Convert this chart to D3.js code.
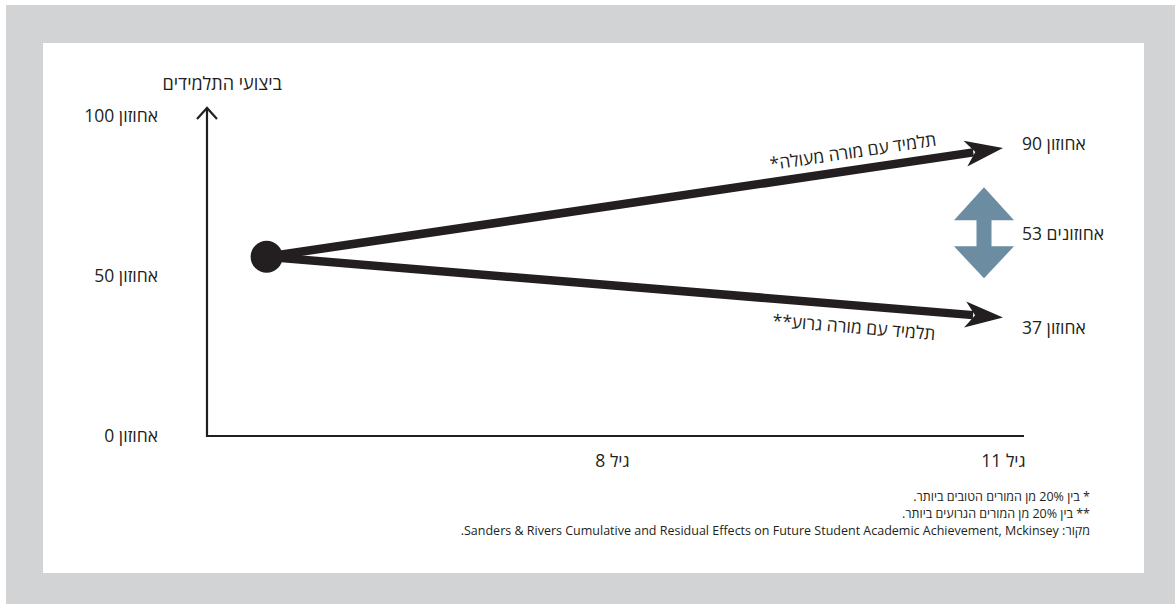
<!DOCTYPE html>
<html>
<head>
<meta charset="utf-8">
<script src="https://cdn.jsdelivr.net/npm/d3@7"></script>
<style>
  body { margin: 0; background: #ffffff; }
  svg { display: block; }
  text { font-family: "Open Sans", "Liberation Sans", sans-serif; fill: #231f20; }
</style>
</head>
<body>
<svg id="chart" width="1175" height="604"></svg>
<script>
// Percentile axis
const yTickValues = [0, 50, 100];
const yTickLabels = ["אחוזון 0", "אחוזון 50", "אחוזון 100"];
const yTitle = "ביצועי התלמידים";

// Age axis
const xTickValues = [8, 11];
const xTickLabels = ["גיל 8", "גיל 11"];

// Two trajectories from a common starting point
const seriesNames = ["תלמיד עם מורה מעולה*", "תלמיד עם מורה גרוע**"];
const startAge = 5.35;
const startPercentile = 56;
const endAge = [11, 11];
const endPercentile = [90, 37];
const endLabels = ["אחוזון 90", "אחוזון 37"];
const gapLabel = "53 אחוזונים";

const footnotes = [
  "* בין 20% מן המורים הטובים ביותר.",
  "** בין 20% מן המורים הגרועים ביותר.",
  "מקור: Sanders & Rivers Cumulative and Residual Effects on Future Student Academic Achievement, Mckinsey."
];

const ink = "#231f20";
const gapColor = "#6b8ca1";
const labelSize = 17.5;

const svg = d3.select("#chart");

// frame
svg.append("rect").attr("x", 6).attr("y", 5).attr("width", 1169).attr("height", 599).attr("fill", "#d1d3d4");
svg.append("rect").attr("x", 43).attr("y", 43).attr("width", 1101).attr("height", 530).attr("fill", "#ffffff");

const y = d3.scaleLinear().domain([0, 100]).range([436, 116]);
const x = d3.scaleLinear().domain([8, 11]).range([612, 1003]);
const axisX0 = 207;

// y axis labels
const yAxis = d3.axisLeft(y)
  .tickValues(yTickValues)
  .tickFormat((d, i) => yTickLabels[i])
  .tickSize(0)
  .tickPadding(49);
const gy = svg.append("g").attr("transform", `translate(${axisX0},0)`).call(yAxis);
gy.select(".domain").remove();
gy.selectAll("text").attr("font-size", labelSize).attr("font-family", null).attr("fill", ink);

// x axis labels
const xAxis = d3.axisBottom(x)
  .tickValues(xTickValues)
  .tickFormat((d, i) => xTickLabels[i])
  .tickSize(0)
  .tickPadding(19);
const gx = svg.append("g").attr("transform", `translate(0,${y(0)})`).call(xAxis);
gx.select(".domain").remove();
gx.selectAll("text").attr("font-size", labelSize).attr("font-family", null).attr("fill", ink);

// axis lines
svg.append("path")
  .attr("d", `M${axisX0},${y(100) - 8}L${axisX0},${y(0)}L1024,${y(0)}`)
  .attr("fill", "none").attr("stroke", ink).attr("stroke-width", 2.2);
svg.append("path")
  .attr("d", `M${axisX0 - 10},${y(100) + 3}L${axisX0},${y(100) - 8}L${axisX0 + 10},${y(100) + 3}`)
  .attr("fill", "none").attr("stroke", ink).attr("stroke-width", 2.2);

// y title
svg.append("text")
  .attr("x", 282).attr("y", 90)
  .attr("direction", "rtl").attr("text-anchor", "start")
  .attr("font-size", 18)
  .text(yTitle);

// trajectories
const p0 = [x(startAge), y(startPercentile)];
endPercentile.forEach((v, i) => {
  const p1 = [x(endAge[i]), y(v)];
  const dx = p1[0] - p0[0], dy = p1[1] - p0[1];
  const len = Math.hypot(dx, dy);
  const ux = dx / len, uy = dy / len;
  const ang = Math.atan2(dy, dx) * 180 / Math.PI;

  svg.append("line")
    .attr("x1", p0[0]).attr("y1", p0[1])
    .attr("x2", p1[0] - ux * 30).attr("y2", p1[1] - uy * 30)
    .attr("stroke", ink).attr("stroke-width", 8.5);

  svg.append("path")
    .attr("d", "M0,0L-38,-13L-28,0L-38,13Z")
    .attr("transform", `translate(${p1[0]},${p1[1]}) rotate(${ang})`)
    .attr("fill", ink);

  // series label along the line
  const t = 0.8;
  const mx = p0[0] + dx * t, my = p0[1] + dy * t;
  const off = i === 0 ? -12 : 28;
  svg.append("text")
    .attr("transform", `translate(${mx},${my}) rotate(${ang}) translate(0,${off})`)
    .attr("direction", "rtl").attr("text-anchor", "middle")
    .attr("font-size", labelSize)
    .text(seriesNames[i]);

  // end value label
  svg.append("text")
    .attr("x", x(endAge[i]) + 19)
    .attr("y", p1[1] + (i === 0 ? 2 : 16))
    .attr("font-size", labelSize)
    .text(endLabels[i]);
});

// starting point
svg.append("circle")
  .attr("cx", p0[0]).attr("cy", p0[1]).attr("r", 16)
  .attr("fill", ink);

// gap double arrow between the two end values
const gapY = (y(endPercentile[0]) + y(endPercentile[1])) / 2;
const gapX = x(11) - 19;
svg.append("path")
  .attr("d", "M0,-45.5L30,-12.5L7.5,-12.5L7.5,13.5L30,13.5L0,45.5L-30,13.5L-7.5,13.5L-7.5,-12.5L-30,-12.5Z")
  .attr("transform", `translate(${gapX},${gapY})`)
  .attr("fill", gapColor);
svg.append("text")
  .attr("x", x(11) + 19).attr("y", gapY + 7)
  .attr("font-size", labelSize)
  .text(gapLabel);

// footnotes
svg.append("g").selectAll("text")
  .data(footnotes)
  .join("text")
  .attr("x", 1090)
  .attr("y", (d, i) => 501 + i * 17)
  .attr("direction", "rtl").attr("text-anchor", "start")
  .attr("font-size", 12.5)
  .text(d => d);
</script>
</body>
</html>
